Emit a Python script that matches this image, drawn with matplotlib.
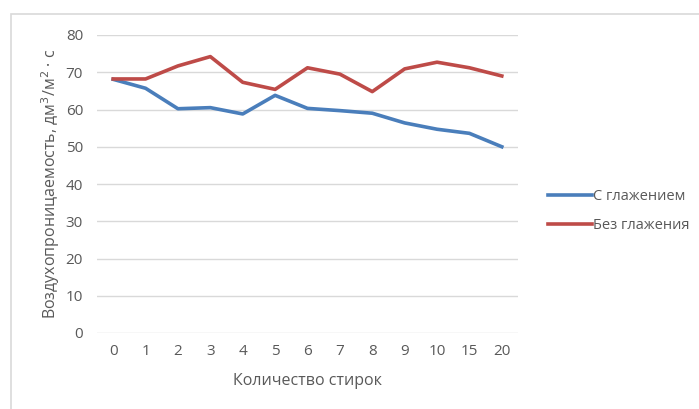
import matplotlib.pyplot as plt
from matplotlib.patches import Rectangle

plt.rcParams['font.family'] = ['Open Sans', 'DejaVu Sans']

washes = ['0', '1', '2', '3', '4', '5', '6', '7', '8', '9', '10', '15', '20']
ironed = [68.1, 65.7, 60.2, 60.5, 58.8, 63.8, 60.3, 59.7, 59.0, 56.4, 54.7, 53.6, 50.0]
not_ironed = [68.2, 68.2, 71.7, 74.2, 67.3, 65.4, 71.2, 69.5, 64.8, 70.9, 72.7, 71.2, 69.0]

text_col = '#595959'

fig = plt.figure(figsize=(6.99, 4.09), dpi=100)
# chart frame
fig.patches.append(Rectangle((11 / 699, -0.1), 1.1, (409 - 14) / 409 + 0.1,
                             transform=fig.transFigure, fill=False,
                             edgecolor='#D9D9D9', linewidth=1.2))

ax = fig.add_axes([97 / 699, (409 - 333) / 409, 421 / 699, 298 / 409])
x = range(len(washes))
ax.plot(x, ironed, color='#4A7EBB', lw=2.6, label='С глажением', solid_joinstyle='round')
ax.plot(x, not_ironed, color='#BE4B48', lw=2.6, label='Без глажения', solid_joinstyle='round')

ax.set_xlim(-0.5, len(washes) - 0.5)
ax.set_ylim(0, 80)
ax.set_yticks(range(0, 81, 10))
ax.set_xticks(list(x))
ax.set_xticklabels(washes)
ax.grid(axis='y', color='#D9D9D9', lw=1)
ax.set_axisbelow(True)
for s in ax.spines.values():
    s.set_visible(False)
ax.tick_params(length=0, labelsize=11, colors=text_col, pad=8)
ax.tick_params(axis='y', pad=10)

ax.set_xlabel('Количество стирок', fontsize=11.5, color=text_col, labelpad=10)
ax.set_ylabel('Воздухопроницаемость, дм$^3$/м$^2$ · с', fontsize=11.5,
              color=text_col, labelpad=3)

leg = fig.legend(loc='upper left', bbox_to_anchor=(548 / 699, 1 - 189 / 409),
                 frameon=False, fontsize=10.5, handlelength=3.0, handletextpad=0.1,
                 labelspacing=0.95, borderpad=0, borderaxespad=0)
for t in leg.get_texts():
    t.set_color(text_col)

fig.savefig('out.png', dpi=100)
